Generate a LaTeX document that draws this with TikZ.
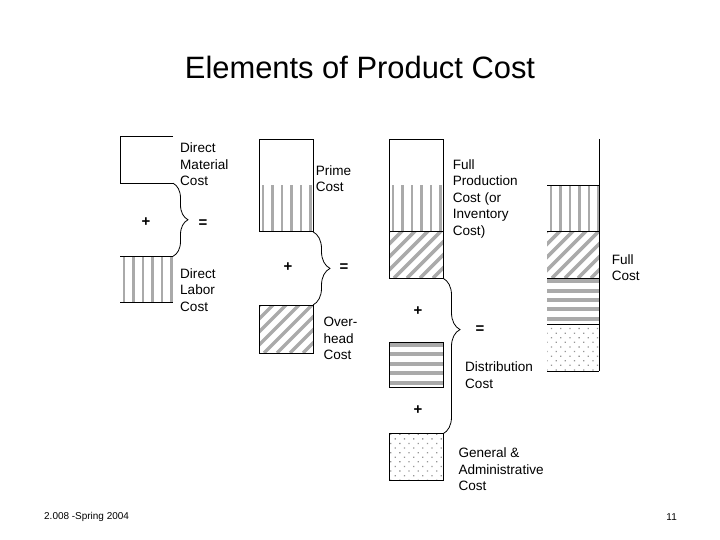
\documentclass[tikz,border=0pt]{standalone}
\usepackage{fontspec}
\setmainfont{Liberation Sans}
\usetikzlibrary{positioning,patterns.meta,decorations.pathreplacing}
\definecolor{stripe}{RGB}{170,170,170}
\definecolor{speck}{RGB}{150,150,150}

\tikzset{
  cell/.style={rectangle,minimum width=54bp,minimum height=46.4bp,inner sep=0pt,outer sep=0pt},
  framed/.style={cell,draw,line width=0.8bp},
  vlines/.style={path picture={
      \foreach \k in {4,13.5,...,54}
        \draw[stripe,line width=2.4bp] ([xshift=\k bp]path picture bounding box.north west)
          -- ([xshift=\k bp]path picture bounding box.south west);}},
  slants/.style={path picture={
      \foreach \k in {-60,-47,...,60}
        \draw[stripe,line width=3.5bp] ([xshift=\k bp]path picture bounding box.south west) -- ++(60bp,60bp);}},
  hlines/.style={path picture={
      \foreach \k in {3,12.4,...,48}
        \draw[stripe,line width=4bp] ([yshift=-\k bp]path picture bounding box.north west)
          -- ([yshift=-\k bp]path picture bounding box.north east);}},
  dotty/.style={pattern={Dots[radius=0.9bp,distance=6.5bp,angle=45]},pattern color=speck},
  lbl/.style={anchor=north west,align=left,inner sep=0pt,font=\fontsize{13.6}{16.6}\selectfont},
  sign/.style={inner sep=0pt,font=\fontsize{15}{15}\bfseries\selectfont},
  brc/.style={decorate,decoration={brace,amplitude=#1},line width=0.8bp}
}

\begin{document}
\begin{tikzpicture}[x=1bp,y=-1bp]
  \useasboundingbox (0,0) rectangle (720,540);
  \node[inner sep=0pt,font=\fontsize{31}{36}\selectfont] (title) at (360,67.5) {Elements of Product Cost};

  % material + labor
  \node[cell,minimum width=53bp] (dm) at (146.5,160) {};
  \draw[line width=0.8bp] (dm.north east) -- (dm.north west) -- (dm.south west) -- (dm.south east);
  \node[cell,minimum width=53bp,vlines] (dl) at (146.5,279.5) {};
  \draw[line width=0.8bp] (dl.north west) -- (dl.north east) (dl.south west) -- (dl.south east);
  \node[lbl] (dmlbl) at (180,142.5) {Direct\\Material\\Cost};
  \node[lbl] (dllbl) at (180,268.3) {Direct\\Labor\\Cost};
  \node[sign] (p1) at (146,222.5) {+};
  \draw[brc=15bp] (dm.south east) -- (dl.north east);
  \node[sign] (eq1) at (203,223.5) {=};

  % prime + overhead
  \node[cell] (pr1) at (286,162.2) {};
  \node[cell,vlines,below=0pt of pr1] (pr2) {};
  \draw[line width=0.8bp] (pr1.north west) rectangle (pr2.south east);
  \node[lbl] (prlbl) at (315.7,165) {Prime\\Cost};
  \node[framed,slants,minimum height=48bp] (ovh) at (286,329) {};
  \node[lbl] (ovlbl) at (323.3,317) {Over-\\head\\Cost};
  \node[sign] (p2) at (288,267) {+};
  \draw[brc=17bp] (pr2.south east) -- (ovh.north east);
  \node[sign] (eq2) at (344,268) {=};

  % production + distribution + G&A
  \node[cell] (fp1) at (416,162.2) {};
  \node[cell,vlines,below=0pt of fp1] (fp2) {};
  \node[cell,slants,below=0pt of fp2] (fp3) {};
  \draw[line width=0.8bp] (fp1.north west) rectangle (fp3.south east);
  \draw[line width=0.8bp] (fp2.south west) -- (fp2.south east);
  \node[lbl] (fplbl) at (452.7,159.3) {Full\\Production\\Cost (or\\Inventory\\Cost)};
  \node[framed,hlines,minimum height=45bp] (dist) at (416,364.5) {};
  \node[lbl] (dslbl) at (465,361.7) {Distribution\\Cost};
  \node[framed,dotty] (ga) at (416,457) {};
  \node[lbl] (galbl) at (458.3,447.7) {General \&\\Administrative\\Cost};
  \node[sign] (p3) at (418,311) {+};
  \node[sign] (p4) at (418,410) {+};
  \draw[brc=17bp,decoration={aspect=0.33}] (fp3.south east) -- (ga.north east);
  \node[sign] (eq3) at (480,330) {=};

  % full cost column
  \node[cell,minimum width=52bp] (fc1) at (573,162.2) {};
  \node[cell,minimum width=52bp,vlines,below=0pt of fc1] (fc2) {};
  \node[cell,minimum width=52bp,slants,below=0pt of fc2] (fc3) {};
  \node[cell,minimum width=52bp,hlines,below=0pt of fc3] (fc4) {};
  \node[cell,minimum width=52bp,dotty,below=0pt of fc4] (fc5) {};
  \draw[line width=0.8bp] (fc1.north east) -- (fc5.south east);
  \foreach \i in {1,...,5}
    \draw[line width=0.8bp] (fc\i.south west) -- (fc\i.south east);
  \node[lbl] (fclbl) at (611.7,254) {Full\\Cost};

  % footer
  \node[anchor=west,inner sep=0pt,font=\fontsize{10}{12}\selectfont] (foot) at (44,517) {2.008 -Spring 2004};
  \node[anchor=east,inner sep=0pt,font=\fontsize{10}{12}\selectfont] (page) at (677,517) {11};
\end{tikzpicture}
\end{document}
